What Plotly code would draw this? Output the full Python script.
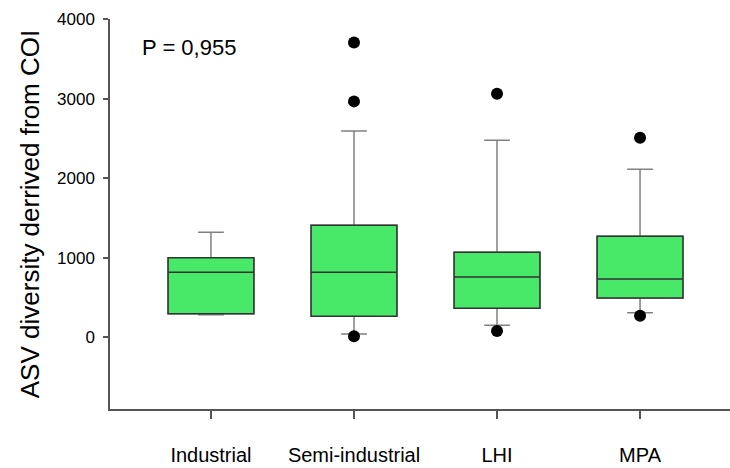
import plotly.graph_objects as go

categories = ["Industrial", "Semi-industrial", "LHI", "MPA"]
lower_whisker = [285, 43, 151, 310]
q1 = [298, 264, 365, 495]
median = [818, 818, 760, 734]
q3 = [1000, 1409, 1069, 1270]
upper_whisker = [1321, 2592, 2478, 2113]
outlier_cat = [1, 1, 1, 2, 2, 3, 3]
outlier_val = [3706, 2965, 13, 3062, 80, 2508, 273]
y_ticks = [0, 1000, 2000, 3000, 4000]

pos = list(range(len(categories)))
GREEN = "#48E868"

fig = go.Figure()
# whiskers (gray)
fig.add_trace(go.Box(
    x=pos, q1=q1, median=median, q3=q3,
    lowerfence=lower_whisker, upperfence=upper_whisker,
    width=0.6, whiskerwidth=0.3, fillcolor=GREEN,
    line=dict(color="#808080", width=1.5), boxpoints=False,
    showlegend=False, hoverinfo="skip"))
# box body (dark outline)
fig.add_trace(go.Box(
    x=pos, q1=q1, median=median, q3=q3,
    lowerfence=q1, upperfence=q3,
    width=0.6, whiskerwidth=0, fillcolor=GREEN,
    line=dict(color="#333333", width=1.5), boxpoints=False,
    showlegend=False, hoverinfo="skip"))
fig.add_trace(go.Scatter(
    x=[pos[i] for i in outlier_cat], y=outlier_val, mode="markers",
    marker=dict(color="black", size=12), showlegend=False))

FONT = "Liberation Sans, Arial, sans-serif"

fig.update_layout(
    width=730, height=468,
    margin=dict(l=110, r=0, t=19, b=59),
    paper_bgcolor="white", plot_bgcolor="white",
    boxmode="overlay",
    font=dict(family=FONT, color="black"),
    xaxis=dict(
        range=[-0.706, 3.629], tickvals=pos, ticktext=categories,
        showline=True, linecolor="#555555", linewidth=1.5,
        ticks="outside", ticklen=8, tickcolor="#555555", tickwidth=1.5,
        showgrid=False, zeroline=False, ticklabelstandoff=19,
        automargin=False,
        tickfont=dict(size=20, family=FONT)),
    yaxis=dict(
        range=[-900, 4000], tickvals=y_ticks,
        showline=True, linecolor="#555555", linewidth=1.5,
        ticks="outside", ticklen=5, tickcolor="#555555", tickwidth=1.5,
        showgrid=False, zeroline=False, automargin=False,
        ticklabelstandoff=5,
        tickfont=dict(size=17, family=FONT),
        title=dict(text="ASV diversity derrived from COI",
                   font=dict(size=26, family=FONT),
                   standoff=10)),
    annotations=[dict(text="P = 0,955", xref="paper", yref="paper",
                      x=0.048, y=0.926, xanchor="left", yanchor="middle",
                      showarrow=False, font=dict(size=22, family=FONT))],
)

fig.write_html("out.html", config={"displayModeBar": False},
               post_script="document.body.style.margin='0';")
